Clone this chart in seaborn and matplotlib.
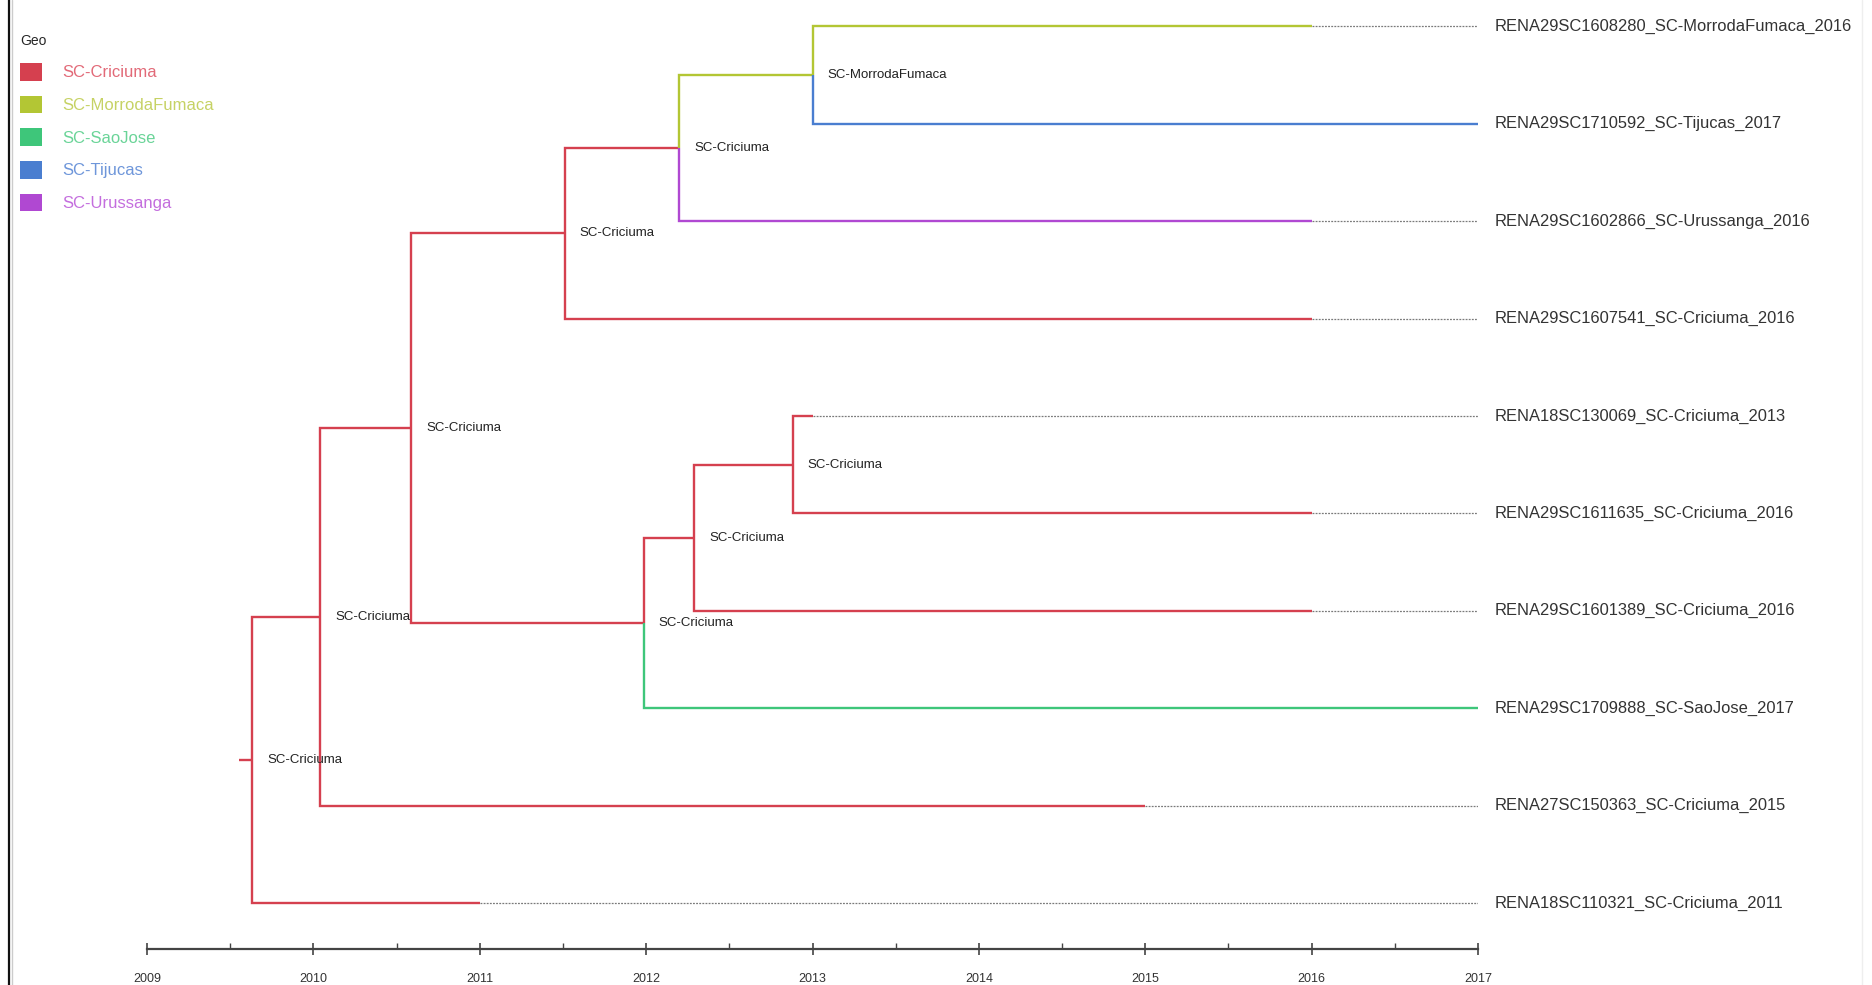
import matplotlib
matplotlib.use("Agg")
import matplotlib.pyplot as plt
from matplotlib.lines import Line2D
from matplotlib.patches import Patch
import seaborn as sns

# tips, top to bottom
tip_labels = [
    "RENA29SC1608280_SC-MorrodaFumaca_2016",
    "RENA29SC1710592_SC-Tijucas_2017",
    "RENA29SC1602866_SC-Urussanga_2016",
    "RENA29SC1607541_SC-Criciuma_2016",
    "RENA18SC130069_SC-Criciuma_2013",
    "RENA29SC1611635_SC-Criciuma_2016",
    "RENA29SC1601389_SC-Criciuma_2016",
    "RENA29SC1709888_SC-SaoJose_2017",
    "RENA27SC150363_SC-Criciuma_2015",
    "RENA18SC110321_SC-Criciuma_2011",
]
tip_dates = [2016.0, 2017.0, 2016.0, 2016.0, 2013.0, 2016.0, 2016.0, 2017.0, 2015.0, 2011.0]
tip_geo = ["SC-MorrodaFumaca", "SC-Tijucas", "SC-Urussanga", "SC-Criciuma", "SC-Criciuma",
           "SC-Criciuma", "SC-Criciuma", "SC-SaoJose", "SC-Criciuma", "SC-Criciuma"]

# internal nodes (n0 = root)
node_dates = [2009.63, 2010.04, 2010.585, 2011.51, 2012.20, 2013.0, 2011.985, 2012.29, 2012.88]
node_geo = ["SC-Criciuma", "SC-Criciuma", "SC-Criciuma", "SC-Criciuma", "SC-Criciuma",
            "SC-MorrodaFumaca", "SC-Criciuma", "SC-Criciuma", "SC-Criciuma"]
node_children = [
    ["n1", "t9"],
    ["n2", "t8"],
    ["n3", "n6"],
    ["n4", "t3"],
    ["n5", "t2"],
    ["t0", "t1"],
    ["n7", "t7"],
    ["n8", "t6"],
    ["t4", "t5"],
]
root_start = 2009.55

geo_names = ["SC-Criciuma", "SC-MorrodaFumaca", "SC-SaoJose", "SC-Tijucas", "SC-Urussanga"]
geo_colors = ["#d5404f", "#b3c634", "#3ec67a", "#4a7ed0", "#b048d2"]
geo_text_colors = ["#e26a78", "#c6d264", "#6ad498", "#6e96da", "#c46ede"]
pal = dict(zip(geo_names, geo_colors))

years = list(range(2009, 2018))

sns.set_style("white")
plt.rcParams["font.family"] = ["Liberation Sans", "DejaVu Sans"]

fig = plt.figure(figsize=(18.72, 9.85), dpi=100)
ax = fig.add_axes([147 / 1872, 36 / 985, (1478 - 147) / 1872, 1 - 36 / 985])


def get(name):
    i = int(name[1:])
    if name[0] == "t":
        return tip_dates[i], float(i), tip_geo[i]
    ys = [get(c)[1] for c in node_children[i]]
    return node_dates[i], sum(ys) / len(ys), node_geo[i]


lw = 1.7
# branches: each child branch coloured by the child's state
for i, kids in enumerate(node_children):
    px, py, _ = get("n%d" % i)
    for c in kids:
        cx, cy, cg = get(c)
        ax.plot([px, px, cx], [py, cy, cy], color=pal[cg], lw=lw,
                solid_joinstyle="miter", solid_capstyle="butt")
    ax.annotate(node_geo[i], (px, py), xytext=(11, 0), textcoords="offset points",
                fontsize=9.5, va="center", ha="left", color="#222222")

rx, ry, rg = get("n0")
ax.plot([root_start, rx], [ry, ry], color=pal[rg], lw=lw, solid_capstyle="butt")

# tip alignment lines and labels
for i, lab in enumerate(tip_labels):
    if tip_dates[i] < years[-1]:
        ax.plot([tip_dates[i], years[-1]], [i, i], color="#7a7a7a", lw=0.9,
                linestyle=(0, (1.5, 1)))
    ax.annotate(lab, (years[-1], i), xytext=(12, 0), textcoords="offset points",
                fontsize=11.9, va="center", ha="left", color="#333333")

ax.set_xlim(years[0], years[-1])
ax.set_ylim(9.47, -0.27)
ax.set_xticks(years)
ax.set_xticks([y + 0.5 for y in years[:-1]], minor=True)
ax.set_xticklabels([str(y) for y in years], fontsize=9, color="#333333")
ax.set_yticks([])
for s in ["top", "right", "left"]:
    ax.spines[s].set_visible(False)
ax.spines["bottom"].set_color("#444444")
ax.spines["bottom"].set_linewidth(1.6)
ax.tick_params(axis="x", which="major", direction="inout", length=9, width=1.2,
               color="#444444", pad=13, bottom=True)
ax.tick_params(axis="x", which="minor", direction="in", length=4, width=1.0,
               color="#444444", bottom=True)
ax.patch.set_alpha(0)

handles = [Patch(facecolor=c, edgecolor="none") for c in geo_colors]
leg = fig.legend(handles, geo_names, title="Geo", loc="upper left",
                 bbox_to_anchor=(20 / 1872, 1 - 34 / 985), frameon=False,
                 fontsize=12, title_fontsize=10, handlelength=1.3, handleheight=1.25,
                 handletextpad=1.25, labelspacing=0.9, borderpad=0, borderaxespad=0,
                 alignment="left")
for t, c in zip(leg.get_texts(), geo_text_colors):
    t.set_color(c)

# page edges
fig.add_artist(Line2D([9 / 1872, 9 / 1872], [0, 1], color="#111111", lw=1.6))
fig.add_artist(Line2D([12 / 1872, 12 / 1872], [0, 1], color="#cccccc", lw=1.0))
fig.add_artist(Line2D([1862 / 1872, 1862 / 1872], [0, 1], color="#eeeeee", lw=1.0))

fig.savefig("out.png", dpi=100)
